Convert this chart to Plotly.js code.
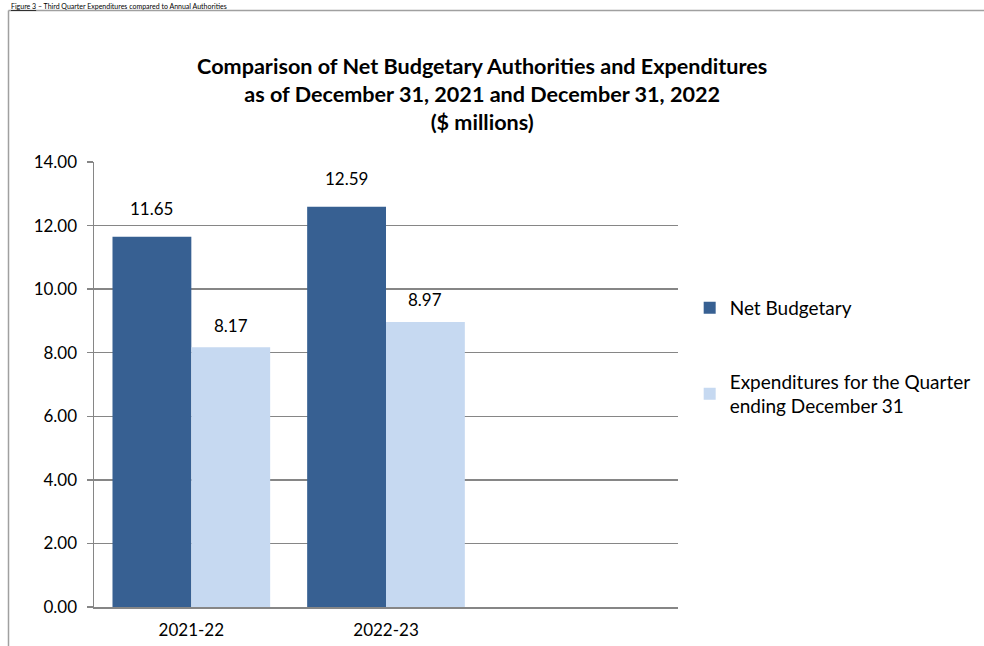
<!DOCTYPE html>
<html>
<head>
<meta charset="utf-8">
<script src="https://cdn.plot.ly/plotly-3.0.1.min.js"></script>
<style>
html,body{margin:0;padding:0;background:#fff;}
#chart{width:984px;height:646px;}
</style>
</head>
<body>
<div id="chart"></div>
<script>
const categories = ['2021-22', '2022-23'];
const netBudgetary = [11.65, 12.59];
const expenditures = [8.17, 8.97];
const seriesNames = ['Net Budgetary', 'Expenditures for the Quarter<br>ending December 31'];
const yTicks = [0, 2, 4, 6, 8, 10, 12, 14];

const FONT = 'Lato, "Open Sans", sans-serif';
const GRID = '#868686';
const BARGAP = 0.19;
const HALF = (1 - BARGAP) / 4;  // offset of each grouped bar centre from its category

const traces = [
  {
    type: 'bar', x: categories, y: netBudgetary, name: seriesNames[0],
    marker: {color: '#376092'}, legendgroup: 'a', hoverinfo: 'y'
  },
  {
    type: 'bar', x: categories, y: expenditures, name: seriesNames[1],
    marker: {color: '#C6D9F1'}, legendgroup: 'b', hoverinfo: 'y'
  }
];

const labelAnn = [];
netBudgetary.forEach((v, i) => labelAnn.push({
  xref: 'x', yref: 'y', x: i - HALF, y: v, text: v.toFixed(2), showarrow: false,
  yanchor: 'middle', yshift: 28, font: {family: FONT, size: 17, color: '#000'}
}));
expenditures.forEach((v, i) => labelAnn.push({
  xref: 'x', yref: 'y', x: i + HALF, y: v, text: v.toFixed(2), showarrow: false,
  yanchor: 'middle', yshift: 22, font: {family: FONT, size: 17, color: '#000'}
}));

const layout = {
  width: 984, height: 646,
  margin: {l: 94, r: 306, t: 162, b: 39, autoexpand: false},
  paper_bgcolor: '#fff', plot_bgcolor: '#fff',
  font: {family: FONT, size: 16, color: '#000'},
  barmode: 'group', bargap: BARGAP, bargroupgap: 0,
  title: {
    text: '<b>Comparison of Net Budgetary Authorities and Expenditures<br>as of December 31, 2021 and December 31, 2022<br>($ millions)</b>',
    font: {family: FONT, size: 21.6, color: '#000'},
    xref: 'container', x: 0.49, xanchor: 'center',
    yref: 'container', y: 0.885, yanchor: 'top'
  },
  xaxis: {
    type: 'category', range: [-0.5, 2.5],
    showline: true, linecolor: GRID, linewidth: 1.5,
    ticks: '', showgrid: false, zeroline: false,
    tickfont: {family: FONT, size: 17}, ticklabelstandoff: 7
  },
  yaxis: {
    range: [0, 14], tickvals: yTicks, tickformat: '.2f',
    showline: true, linecolor: GRID, linewidth: 1.5,
    ticks: 'outside', ticklen: 6, tickcolor: GRID, tickwidth: 1.5,
    showgrid: true, gridcolor: GRID, gridwidth: 1.5, zeroline: false,
    tickfont: {family: FONT, size: 17}, ticklabelstandoff: 6
  },
  legend: {
    x: 1.02, xanchor: 'left', y: 0.715, yanchor: 'top',
    font: {family: FONT, size: 19, color: '#000'},
    traceorder: 'grouped', tracegroupgap: 46,
    itemclick: false, itemdoubleclick: false
  },
  showlegend: true,
  shapes: [
    {type: 'line', xref: 'paper', yref: 'paper', x0: (8.5-94)/584, x1: (8.5-94)/584, y0: (607-10.5)/445, y1: -39/445, line: {color: '#a0a0a0', width: 1.5}},
    {type: 'line', xref: 'paper', yref: 'paper', x0: (8.5-94)/584, x1: 920/584, y0: (607-10.5)/445, y1: (607-10.5)/445, line: {color: '#a0a0a0', width: 1.5}}
  ],
  annotations: labelAnn.concat([
    {
      text: '<u>Figure 3</u> – Third Quarter Expenditures compared to Annual Authorities',
      xref: 'paper', yref: 'paper', x: (10-94)/584, xanchor: 'left',
      y: (607-1)/445, yanchor: 'top', showarrow: false, borderpad: 0,
      font: {family: FONT, size: 7, color: '#000'}
    }
  ])
};

Plotly.newPlot('chart', traces, layout, {displayModeBar: false, staticPlot: true});
</script>
</body>
</html>
